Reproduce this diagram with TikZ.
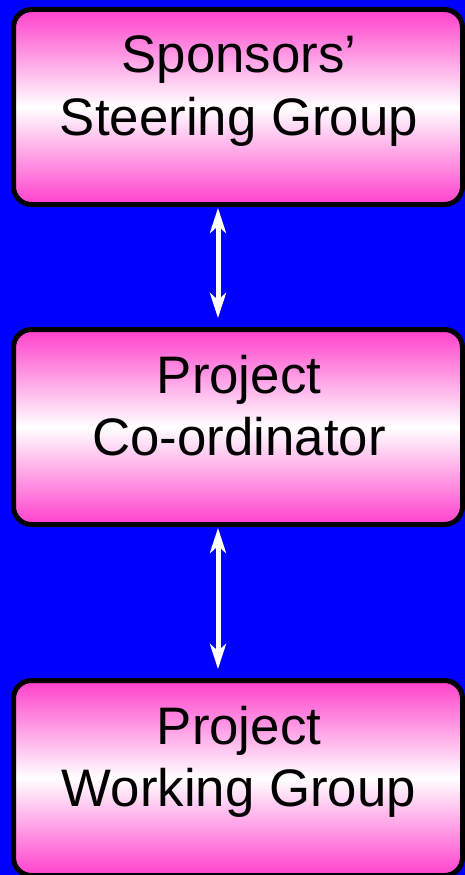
\documentclass[tikz,border=0pt]{standalone}
\usepackage{fontspec}
\setmainfont{Liberation Sans}
\usetikzlibrary{arrows.meta}
\definecolor{bgblue}{RGB}{0,0,255}
\definecolor{boxpink}{RGB}{255,64,204}
\begin{document}
\begin{tikzpicture}[x=1pt,y=-1pt,
  box/.style={draw=black, line width=5pt, rounded corners=18pt,
    minimum width=449pt, minimum height=195pt, inner sep=0pt,
    top color=boxpink, bottom color=boxpink, middle color=white},
  lbl/.style={anchor=base, inner sep=0pt, font=\fontsize{52.8}{63}\selectfont},
  tip/.style={Stealth[length=25pt,width=16pt,inset=7pt]},
  link/.style={draw=white, line width=5pt, {Stealth[length=25pt,width=16pt,inset=7pt]}-{Stealth[length=25pt,width=16pt,inset=7pt]},
    shorten <=1pt, shorten >=9pt}]
  % page and background
  \fill[bgblue] (0,0) rectangle (465,875);
  \useasboundingbox (0,0) rectangle (465,875);
  \clip (0,0) rectangle (465,875);

  % boxes
  \node[box] (sg) at (238,107) {};
  \node[box] (pc) at (238,427) {};
  \node[box] (pw) at (238,778) {};

  % labels
  \node[lbl] (sg1) at (239,72) {Sponsors’};
  \node[lbl] (sg2) at (239,135) {Steering Group};
  \node[lbl] (pc1) at (239,393) {Project};
  \node[lbl] (pc2) at (239,455) {Co-ordinator};
  \node[lbl] (pw1) at (239,744) {Project};
  \node[lbl] (pw2) at (239,806) {Working Group};

  % two-way links
  \coordinate (ax) at (218,0);
  \draw[link] (sg.south -| ax) -- (pc.north -| ax);
  \draw[link] (pc.south -| ax) -- (pw.north -| ax);
\end{tikzpicture}
\end{document}
